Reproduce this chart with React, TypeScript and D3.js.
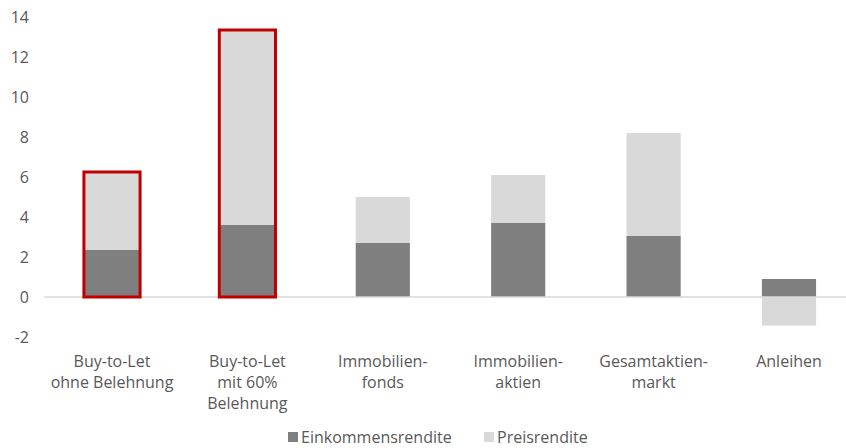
import React from "react";
import * as d3 from "d3";

const categories = [
  "Buy-to-Let\nohne Belehnung",
  "Buy-to-Let\nmit 60%\nBelehnung",
  "Immobilien-\nfonds",
  "Immobilien-\naktien",
  "Gesamtaktien-\nmarkt",
  "Anleihen",
];
const einkommensrendite = [2.35, 3.6, 2.7, 3.7, 3.05, 0.9];
const preisrendite = [3.85, 9.7, 2.3, 2.4, 5.15, -1.43];
const highlighted = [true, true, false, false, false, false];
const yTicks = [-2, 0, 2, 4, 6, 8, 10, 12, 14];
const seriesNames = ["Einkommensrendite", "Preisrendite"];

const W = 846;
const H = 448;
const DARK = "#7f7f7f";
const LIGHT = "#d9d9d9";
const RED = "#c00000";
const TEXT = "#595959";
const FONT = "'Open Sans', 'Noto Sans', sans-serif";
const FS = 16;

export default function App() {
  const y = d3.scaleLinear().domain([-2, 14]).range([337, 17]);
  const x = d3
    .scaleBand<string>()
    .domain(categories)
    .range([44.3, 856.7])
    .paddingInner(0.6)
    .paddingOuter(0.3);
  const bw = x.bandwidth();

  return (
    <svg
      width={W}
      height={H}
      style={{ position: "absolute", left: 0, top: 0, background: "#fff" }}
      fontFamily={FONT}
    >
      {yTicks.map((t) => (
        <text
          key={t}
          x={29}
          y={y(t)}
          dy="0.35em"
          textAnchor="end"
          fontSize={FS}
          fill={TEXT}
        >
          {t}
        </text>
      ))}
      {categories.map((c, i) => {
        const x0 = x(c)!;
        const inc = einkommensrendite[i];
        const pr = preisrendite[i];
        const prBase = pr >= 0 ? inc : 0;
        const prTop = pr >= 0 ? inc + pr : pr;
        return (
          <g key={c}>
            <rect
              x={x0}
              width={bw}
              y={y(Math.max(inc, 0))}
              height={Math.abs(y(0) - y(inc))}
              fill={DARK}
            />
            <rect
              x={x0}
              width={bw}
              y={Math.min(y(prBase), y(prTop))}
              height={Math.abs(y(prBase) - y(prTop))}
              fill={LIGHT}
            />
          </g>
        );
      })}
      <line x1={44} x2={W} y1={y(0)} y2={y(0)} stroke={LIGHT} strokeWidth={1.5} />
      {categories.map((c, i) => {
        if (!highlighted[i]) return null;
        const x0 = x(c)!;
        const top = einkommensrendite[i] + preisrendite[i];
        return (
          <rect
            key={"hl" + c}
            x={x0 - 1}
            width={bw + 2}
            y={y(top) - 1}
            height={y(0) - y(top) + 1}
            fill="none"
            stroke={RED}
            strokeWidth={3}
          />
        );
      })}
      {categories.map((c) => {
        const lines = c.split("\n");
        const cx = x(c)! + bw / 2;
        return (
          <text key={"l" + c} textAnchor="middle" fontSize={FS} fill={TEXT}>
            {lines.map((ln, j) => (
              <tspan key={j} x={cx} y={361 + j * 21} dy="0.35em">
                {ln}
              </tspan>
            ))}
          </text>
        );
      })}
      <g>
        <rect x={288} y={432} width={10} height={10} fill={DARK} />
        <text x={301} y={437} dy="0.35em" fontSize={FS} fill={TEXT}>
          {seriesNames[0]}
        </text>
        <rect x={484} y={432} width={10} height={10} fill={LIGHT} />
        <text x={497} y={437} dy="0.35em" fontSize={FS} fill={TEXT}>
          {seriesNames[1]}
        </text>
      </g>
    </svg>
  );
}
